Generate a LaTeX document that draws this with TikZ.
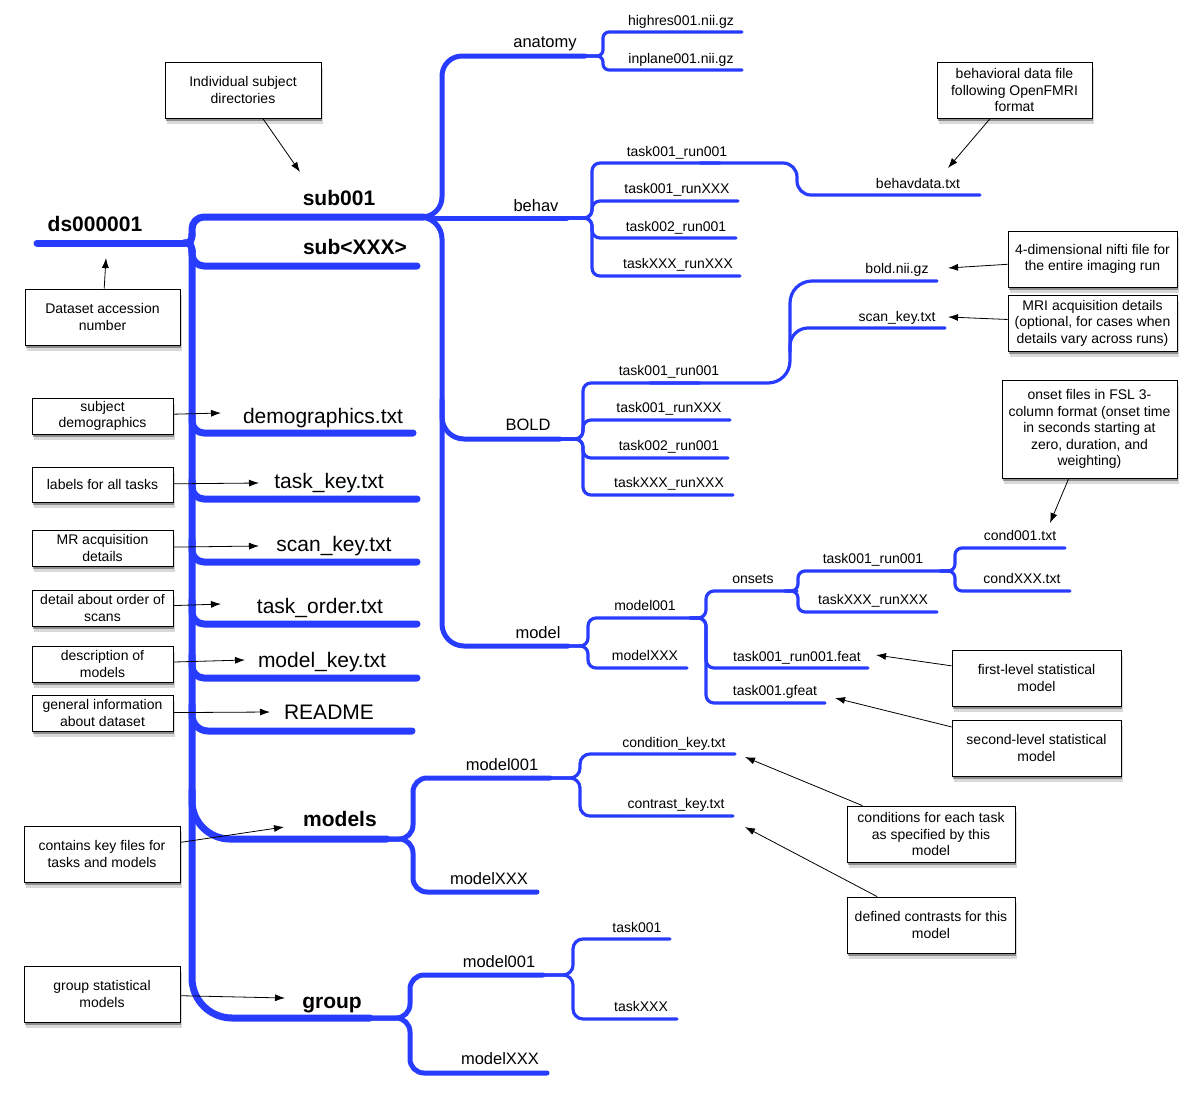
\documentclass[tikz,border=0pt]{standalone}
\usepackage{fontspec}
\setmainfont{Liberation Sans}
\usetikzlibrary{arrows.meta,shadows}
\definecolor{tree}{RGB}{40,60,255}
\begin{document}
\begin{tikzpicture}[x=1pt,y=-1pt,
  lvA/.style={draw=tree,line width=7pt,line cap=round,line join=round,rounded corners=#1},lvA/.default=12,
  lvB/.style={draw=tree,line width=5pt,line cap=round,line join=round,rounded corners=#1},lvB/.default=10,
  lvC/.style={draw=tree,line width=3.2pt,line cap=round,line join=round,rounded corners=#1},lvC/.default=8,
  curv/.style={draw=tree,line width=7pt,line cap=round},
  bigb/.style={font=\fontsize{21}{24}\selectfont\bfseries,inner sep=0pt,text height=15pt,text depth=0pt},
  big/.style={font=\fontsize{21}{24}\selectfont,inner sep=0pt,text height=15pt,text depth=0pt},
  mid/.style={font=\fontsize{16.5}{19}\selectfont,inner sep=0pt,text height=12pt,text depth=0pt},
  small/.style={font=\fontsize{14}{16}\selectfont,inner sep=0pt,text height=10pt,text depth=0pt},
  note/.style={draw=black,line width=0.8pt,fill=white,font=\fontsize{14}{16.5}\selectfont,align=center,inner sep=2pt,
    drop shadow={shadow xshift=1pt,shadow yshift=-3pt,opacity=.35,fill=black},
    drop shadow={shadow xshift=2pt,shadow yshift=-6pt,opacity=.15,fill=black}},
  arr/.style={-{Latex[length=10pt,width=7pt]},line width=0.8pt,draw=black}
]
\useasboundingbox (0,0) rectangle (1200,1098);
\fill[white] (0,0) rectangle (1200,1098);

% ---------- tree ----------
% root and trunk
\draw[lvA] (37,243) -- (184,243);
\draw[curv] (184,243) .. controls (191,243) and (192,240) .. (192,234);
\draw[curv] (184,243) .. controls (191,243) and (192,246) .. (192,252);
\draw[lvA=12] (192,236) -- (192,217) -- (424,217);
\draw[lvA=40] (192,250) -- (192,1018) -- (370,1018);
\draw[lvA=12] (192,250) -- (192,266) -- (417,266);
\draw[lvA=12] (192,415) -- (192,433) -- (413,433);
\draw[lvA=12] (192,480) -- (192,499) -- (417,499);
\draw[lvA=12] (192,540) -- (192,562) -- (417,562);
\draw[lvA=12] (192,600) -- (192,624) -- (417,624);
\draw[lvA=12] (192,655) -- (192,678) -- (417,678);
\draw[lvA=16] (192,705) -- (192,731) -- (412,731);
\draw[lvA=38] (192,790) -- (192,839) -- (387,839);

% sub001 children
\draw[lvB=20] (412,217) -| (442,56) -- (585,56);
\draw[lvB] (432,218) -- (567,218);
\draw[lvB=22] (412,217) -| (442,646) -- (568,646);
\draw[lvB=22] (442,400) -- (442,439) -- (560,439);

% anatomy
\draw[lvC=6] (585,56) -| (603,32) -- (742,32);
\draw[lvC=6] (585,56) -| (603,70) -- (742,70);

% behav
\draw[lvC=8] (567,218) -| (592,163) -- (720,163);
\draw[lvC=14] (700,163) -- (797,163) -- (797,195) -- (980,195);
\draw[lvC=8] (567,218) -| (592,201) -- (738,201);
\draw[lvC=8] (567,218) -| (592,238) -- (736,238);
\draw[lvC=8] (567,218) -| (592,276) -- (740,276);

% BOLD
\draw[lvC=8] (560,439) -| (583,383) -- (700,383);
\draw[lvC=22] (650,383) -- (790,383) -- (790,281) -- (937,281);
\draw[lvC=18] (790,352) -- (790,328) -- (945,328);
\draw[lvC=8] (560,439) -| (583,420) -- (730,420);
\draw[lvC=8] (560,439) -| (583,458) -- (728,458);
\draw[lvC=8] (560,439) -| (583,495) -- (733,495);

% model
\draw[lvC=8] (568,646) -| (588,618) -- (702,618);
\draw[lvC=8] (568,646) -| (588,668) -- (687,668);
\draw[lvC=8] (690,618) -| (706,591) -- (797,591);
\draw[lvC=8] (690,618) -| (706,668) -- (868,668);
\draw[lvC=8] (690,618) -| (706,703) -- (825,703);
\draw[lvC=7] (785,591) -| (798,571) -- (952,571);
\draw[lvC=7] (785,591) -| (798,612) -- (937,612);
\draw[lvC=7] (940,571) -| (955,548) -- (1065,548);
\draw[lvC=7] (940,571) -| (955,591) -- (1070,591);

% models
\draw[lvB=14] (387,839) -| (413,778) -- (550,778);
\draw[lvB=14] (387,839) -| (413,892) -- (537,892);
\draw[lvC=10] (550,778) -| (580,754) -- (735,754);
\draw[lvC=10] (550,778) -| (580,816) -- (733,816);

% group
\draw[lvB=14] (370,1018) -| (410,975) -- (543,975);
\draw[lvB=14] (370,1018) -| (410,1073) -- (547,1073);
\draw[lvC=10] (543,975) -| (573,939) -- (670,939);
\draw[lvC=10] (543,975) -| (573,1019) -- (677,1019);

% ---------- labels ----------
\node[bigb] (ds) at (95,224) {ds000001};
\node[bigb] (sub1) at (339,198) {sub001};
\node[bigb] (subx) at (355,247) {sub<XXX>};
\node[big] (demo) at (323,416) {demographics.txt};
\node[big] (tkey) at (329,481) {task\_key.txt};
\node[big] (skey) at (334,544) {scan\_key.txt};
\node[big] (tord) at (320,606) {task\_order.txt};
\node[big] (mkey) at (322,660) {model\_key.txt};
\node[big] (readme) at (329,712) {README};
\node[bigb] (models) at (340,819) {models};
\node[bigb] (group) at (332,1001) {group};

\node[mid] (anat) at (545,41) {anatomy};
\node[mid] (behav) at (536,205) {behav};
\node[mid] (bold) at (528,424) {BOLD};
\node[mid] (model) at (538,632) {model};

\node[small] (hr) at (681,20) {highres001.nii.gz};
\node[small] (ip) at (681,58) {inplane001.nii.gz};
\node[small] (b1) at (677,151) {task001\_run001};
\node[small] (b2) at (677,188) {task001\_runXXX};
\node[small] (b3) at (676,226) {task002\_run001};
\node[small] (b4) at (678,263) {taskXXX\_runXXX};
\node[small] (bdata) at (918,183) {behavdata.txt};
\node[small] (boldnii) at (897,268) {bold.nii.gz};
\node[small] (bskey) at (897,316) {scan\_key.txt};
\node[small] (r1) at (669,370) {task001\_run001};
\node[small] (r2) at (669,407) {task001\_runXXX};
\node[small] (r3) at (669,445) {task002\_run001};
\node[small] (r4) at (669,482) {taskXXX\_runXXX};
\node[small] (m1) at (645,605) {model001};
\node[small] (mx) at (645,655) {modelXXX};
\node[small] (ons) at (753,578) {onsets};
\node[small] (o1) at (873,558) {task001\_run001};
\node[small] (o2) at (873,599) {taskXXX\_runXXX};
\node[small] (c1) at (1020,535) {cond001.txt};
\node[small] (cx) at (1022,578) {condXXX.txt};
\node[small] (feat) at (797,656) {task001\_run001.feat};
\node[small] (gfeat) at (775,690) {task001.gfeat};
\node[mid] (mm1) at (502,764) {model001};
\node[mid] (mmx) at (489,878) {modelXXX};
\node[small] (ckey) at (674,742) {condition\_key.txt};
\node[small] (cokey) at (676,803) {contrast\_key.txt};
\node[mid] (gm1) at (499,961) {model001};
\node[mid] (gmx) at (500,1058) {modelXXX};
\node[small] (gt1) at (637,927) {task001};
\node[small] (gtx) at (641,1006) {taskXXX};

% ---------- notes ----------
\node[note,minimum width=156pt,minimum height=56pt] (n1) at (243,90) {Individual subject\\directories};
\node[note,minimum width=155pt,minimum height=56pt] (n2) at (102.5,317) {Dataset accession\\number};
\node[note,minimum width=141pt,minimum height=36pt] (n3) at (102.5,416) {subject\\demographics};
\node[note,minimum width=141pt,minimum height=35pt] (n4) at (102.5,484.5) {labels for all tasks};
\node[note,minimum width=141pt,minimum height=36pt] (n5) at (102.5,548) {MR acquisition\\details};
\node[note,minimum width=141pt,minimum height=36pt] (n6) at (102.5,608) {detail about order of\\scans};
\node[note,minimum width=141pt,minimum height=36pt] (n7) at (102.5,664) {description of\\models};
\node[note,minimum width=141pt,minimum height=36pt] (n8) at (102.5,713) {general information\\about dataset};
\node[note,minimum width=156pt,minimum height=56pt] (n9) at (102,854) {contains key files for\\tasks and models};
\node[note,minimum width=156pt,minimum height=56pt] (n10) at (102,994) {group statistical\\models};
\node[note,minimum width=155pt,minimum height=56pt] (n11) at (1014.5,90) {behavioral data file\\following OpenFMRI\\format};
\node[note,minimum width=169pt,minimum height=56pt] (n12) at (1092.5,259) {4-dimensional nifti file for\\the entire imaging run};
\node[note,minimum width=169pt,minimum height=56pt] (n13) at (1092.5,323) {MRI acquisition details\\(optional, for cases when\\details vary across runs)};
\node[note,minimum width=175pt,minimum height=98pt] (n14) at (1089.5,429) {onset files in FSL 3-\\column format (onset time\\in seconds starting at\\zero, duration, and\\weighting)};
\node[note,minimum width=169pt,minimum height=56pt] (n15) at (1036.5,678) {first-level statistical\\model};
\node[note,minimum width=169pt,minimum height=56pt] (n16) at (1036.5,748) {second-level statistical\\model};
\node[note,minimum width=168pt,minimum height=56pt] (n17) at (931,834) {conditions for each task\\as specified by this\\model};
\node[note,minimum width=168pt,minimum height=56pt] (n18) at (931,925) {defined contrasts for this\\model};

% ---------- arrow targets ----------
\coordinate (t1) at (300,172);
\coordinate (t2) at (106,258);
\coordinate (t3) at (221,413);
\coordinate (t4) at (259,483);
\coordinate (t5) at (259,546);
\coordinate (t6) at (221,604);
\coordinate (t7) at (245,660);
\coordinate (t8) at (270,712);
\coordinate (t9) at (284,827);
\coordinate (t10) at (285,998);
\coordinate (t11) at (948,168);
\coordinate (t12) at (948,268);
\coordinate (t13) at (948,317);
\coordinate (t14) at (1050,523);
\coordinate (t15) at (876,655);
\coordinate (t16) at (835,698);
\coordinate (t17) at (745,757);
\coordinate (t18) at (745,827);

\foreach \i in {1,...,18} { \draw[arr] (n\i) -- (t\i); }
\end{tikzpicture}
\end{document}
